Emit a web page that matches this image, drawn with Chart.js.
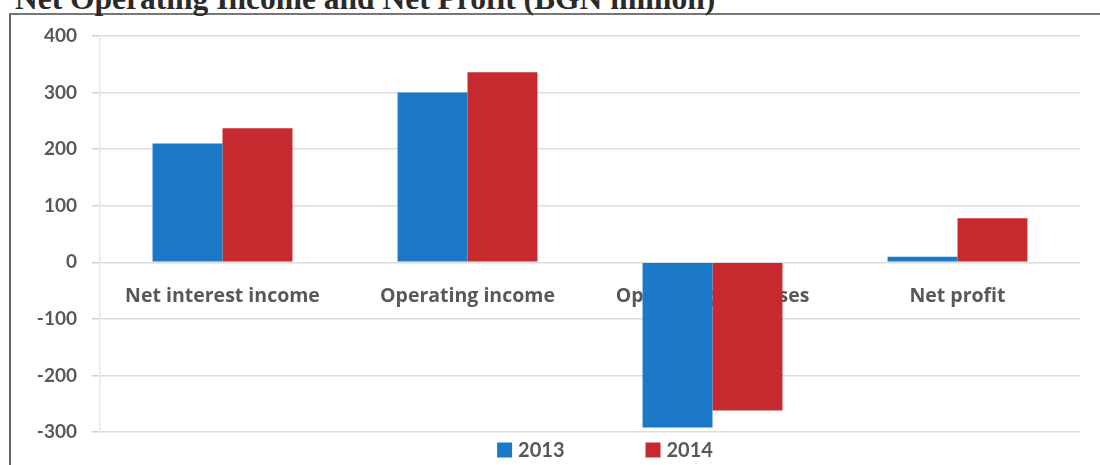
<!DOCTYPE html>
<html>
<head>
<meta charset="utf-8">
<script src="https://cdn.jsdelivr.net/npm/chart.js"></script>
<style>
  html, body { margin: 0; padding: 0; background: #fff; overflow: hidden; }
  #wrap { position: relative; width: 1100px; height: 465px; overflow: hidden; }
  #frame {
    position: absolute; left: 9px; top: 13px; right: -5px; bottom: -5px;
    border-top: 2px solid #777; border-left: 2px solid #666;
  }
  #title {
    position: absolute; left: 15px; top: -17px; margin: 0;
    font: bold 31.5px "Liberation Serif", "Times New Roman", serif;
    line-height: 32px; color: #2a2a2a; white-space: nowrap;
  }
  #chart { position: absolute; left: 0; top: 0; }
</style>
</head>
<body>
<div id="wrap">
  <div id="frame"></div>
  <h1 id="title">Net Operating Income and Net Profit (BGN million)</h1>
  <canvas id="chart" width="1100" height="465"></canvas>
</div>
<script>
// figures in BGN million
const categories = ['Net interest income', 'Operating income', 'Operating expenses', 'Net profit'];
const seriesNames = ['2013', '2014'];
const values2013 = [210, 300, -292, 10];
const values2014 = [237, 336, -262, 78];
const yTicks = [400, 300, 200, 100, 0, -100, -200, -300];

const BLUE = '#1c79c8';
const RED = '#c62a2e';
const TEXT = '#585858';
const FONT = 'Lato, "Open Sans", sans-serif';
const LABEL_FONT = '"Open Sans", Lato, sans-serif';

// small legend under the plot: square swatch + year
const yearLegend = {
  id: 'yearLegend',
  afterDraw(chart, args, opts) {
    const ctx = chart.ctx;
    ctx.save();
    ctx.font = 'bold 20px ' + FONT;
    ctx.textBaseline = 'middle';
    const box = 15, gap = 6, spacing = 81;
    const items = chart.data.datasets.map(ds => ({
      label: ds.label,
      color: ds.backgroundColor,
      w: box + gap + ctx.measureText(ds.label).width
    }));
    const total = items.reduce((s, it) => s + it.w, 0) + spacing * (items.length - 1);
    let x = opts.centerX - total / 2;
    items.forEach(it => {
      ctx.fillStyle = it.color;
      ctx.fillRect(x, opts.y - box / 2, box, box);
      ctx.fillStyle = TEXT;
      ctx.fillText(it.label, x + box + gap, opts.y + 1);
      x += it.w + spacing;
    });
    ctx.restore();
  }
};

new Chart(document.getElementById('chart'), {
  type: 'bar',
  data: {
    labels: categories,
    datasets: [
      { label: seriesNames[0], data: values2013, backgroundColor: BLUE },
      { label: seriesNames[1], data: values2014, backgroundColor: RED }
    ]
  },
  options: {
    responsive: false,
    animation: false,
    layout: { padding: { top: 36, bottom: 33, left: 0, right: 20 } },
    datasets: {
      bar: { categoryPercentage: 0.571, barPercentage: 1.0 }
    },
    scales: {
      x: {
        position: { y: 0 },
        grid: { display: false, drawTicks: false },
        border: { display: false },
        ticks: {
          padding: 22,
          color: TEXT,
          font: { family: LABEL_FONT, size: 19.5, weight: 'bold' }
        }
      },
      y: {
        min: -300,
        max: 400,
        afterFit(scale) { scale.width = 100; },
        afterBuildTicks(scale) { scale.ticks = yTicks.map(v => ({ value: v })); },
        grid: { color: '#dcdcdc', lineWidth: 1.5, tickLength: 8, tickColor: '#d0d0d0' },
        border: { display: true, color: '#e6e6e6', width: 1.5 },
        ticks: {
          padding: 15,
          color: TEXT,
          font: { family: FONT, size: 19, weight: 'bold' }
        }
      }
    },
    plugins: {
      legend: { display: false },
      tooltip: { enabled: false },
      yearLegend: { centerX: 605, y: 450 }
    }
  },
  plugins: [yearLegend]
});
</script>
</body>
</html>
